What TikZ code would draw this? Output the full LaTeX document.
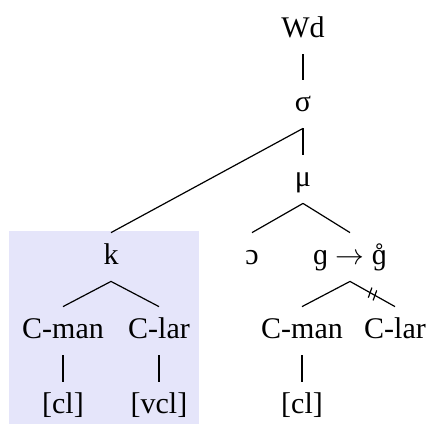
\documentclass[tikz,border=0pt]{standalone}
\usepackage{fontspec}
\setmainfont{Liberation Serif}
\usetikzlibrary{calc}
\definecolor{hilite}{RGB}{229,229,250}
\newcommand\voicelessg{\leavevmode\rlap{ɡ}\hbox to \fontcharwd\font"0261{\hss\raisebox{-0.05em}{˚}\hss}}
\begin{document}
\begin{tikzpicture}[x=0.5pt,y=-0.5pt,
  lab/.style={font=\fontsize{15}{18}\selectfont, text height=11pt, text depth=4pt,
              inner xsep=1pt, inner ysep=4.5pt, anchor=base},
  edge/.style={line width=0.6pt}]
\useasboundingbox (0,0) rectangle (432,424);
\fill[hilite] (9,231) rectangle (199,424);
% nodes
\node[lab] (wd)    at (303,37)  {Wd};
\node[lab] (sigma) at (303,111) {σ};
\node[lab] (mu)    at (303,186) {μ};
\node[lab] (k)     at (111,264) {k};
\node[lab] (o)     at (252,264) {ɔ};
\node[lab] (g)     at (350,264) {ɡ $\rightarrow$ \voicelessg};
\node[lab] (cmanA) at (63,338)  {C-man};
\node[lab] (clarA) at (159,338) {C-lar};
\node[lab] (cmanB) at (302,338) {C-man};
\node[lab] (clarB) at (395,338) {C-lar};
\node[lab] (clA)   at (63,413)  {[cl]};
\node[lab] (vclA)  at (159,413) {[vcl]};
\node[lab] (clB)   at (302,413) {[cl]};
% connectors
\draw[edge] (wd.south) -- (sigma.north);
\draw[edge] (sigma.south) -- (mu.north);
\draw[edge] (sigma.south) -- (k.north);
\draw[edge] (mu.south) -- (o.north);
\draw[edge] (mu.south) -- (g.north);
\draw[edge] (k.south) -- (cmanA.north);
\draw[edge] (k.south) -- (clarA.north);
\draw[edge] (g.south) -- (cmanB.north);
\draw[edge] (g.south) -- coordinate[pos=0.5] (cut) (clarB.north);
\draw[edge] (cmanA.south) -- (clA.north);
\draw[edge] (clarA.south) -- (vclA.north);
\draw[edge] (cmanB.south) -- (clB.north);
% delinking mark
\coordinate (cutL) at ($(cut)+(-2.4,-1.4)$);
\coordinate (cutR) at ($(cut)+(2.4,1.4)$);
\draw[edge] ($(cutL)+(-1.8,5)$) -- ($(cutL)+(1.8,-5)$);
\draw[edge] ($(cutR)+(-1.8,5)$) -- ($(cutR)+(1.8,-5)$);
\end{tikzpicture}
\end{document}
